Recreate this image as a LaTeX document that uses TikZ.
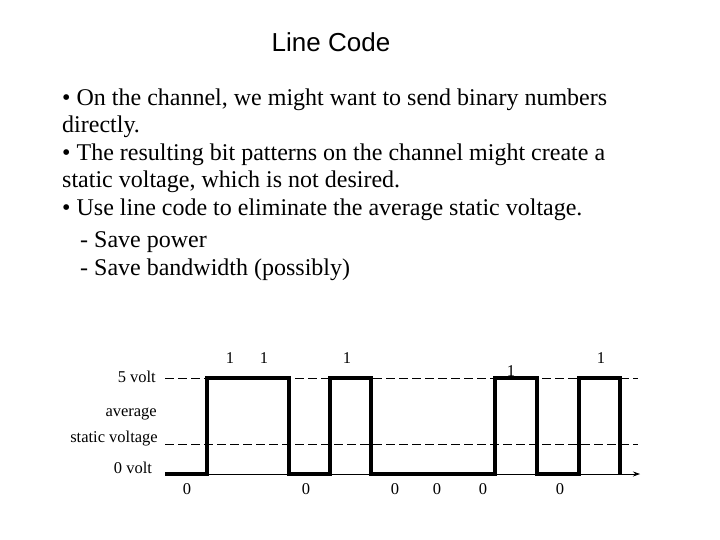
\documentclass[tikz,border=0pt]{standalone}
\usepackage{fontspec}
\setmainfont{Liberation Serif}
\newfontfamily\titlefont{Liberation Sans}
\usetikzlibrary{arrows.meta}
\begin{document}
\begin{tikzpicture}[x=1pt,y=-1pt,
  body/.style={anchor=west,inner sep=0pt,font=\fontsize{24}{28}\selectfont},
  lbl/.style={inner sep=0pt,font=\fontsize{16.5}{19}\selectfont},
  wave/.style={line width=3.5pt},
  dash line/.style={dash pattern=on 9pt off 4pt,line width=0.8pt}]
\useasboundingbox (0,0) rectangle (720,540);
\node[inner sep=0pt,font=\titlefont\fontsize{26}{30}\selectfont] (title) at (331,42) {Line Code};
\node[body] (l1) at (62,100) {• On the channel, we might want to send binary numbers};
\node[body] (l2) at (62,127) {directly.};
\node[body] (l3) at (62,155) {• The resulting bit patterns on the channel might create a};
\node[body] (l4) at (62,182) {static voltage, which is not desired.};
\node[body] (l5) at (62,210) {• Use line code to eliminate the average static voltage.};
\node[body] (l6) at (62,242) {\ \ \ - Save power};
\node[body] (l7) at (62,270) {\ \ \ - Save bandwidth (possibly)};
% labels
\node[lbl,anchor=east] (v5) at (156,377) {5 volt};
\node[lbl,anchor=east] (avg1) at (157,414) {average};
\node[lbl,anchor=east] (avg2) at (158,439) {static voltage};
\node[lbl] (v0) at (133,468) {0 volt};
% dashed lines
\coordinate (d1a) at (165,378); \coordinate (d1b) at (638,378);
\coordinate (d2a) at (165,444); \coordinate (d2b) at (638,444);
\draw[dash line] (d1a) -- (d1b);
\draw[dash line] (d2a) -- (d2b);
% axis
\coordinate (ax0) at (165,474); \coordinate (ax1) at (640,474);
\draw[-{Stealth[length=7pt,width=5pt]},line width=0.8pt] (ax0) -- (ax1);
% waveform
\draw[wave,line join=miter] (165,474) -- (207,474) -- (207,378) -- (289,378) -- (289,474)
  -- (330,474) -- (330,378) -- (371,378) -- (371,474) -- (495,474) -- (495,378)
  -- (537,378) -- (537,474) -- (579,474) -- (579,378) -- (620,378) -- (620,474);
% digits
\foreach \n/\x/\y in {a/230/358,b/264/358,c/347/358,d/511/371,e/601/358}
  \node[lbl] (one\n) at (\x,\y) {1};
\foreach \n/\x/\y in {a/187/489,b/306/489,c/395/489,d/437/489,e/483/489,f/560/489}
  \node[lbl] (zero\n) at (\x,\y) {0};
\end{tikzpicture}
\end{document}
